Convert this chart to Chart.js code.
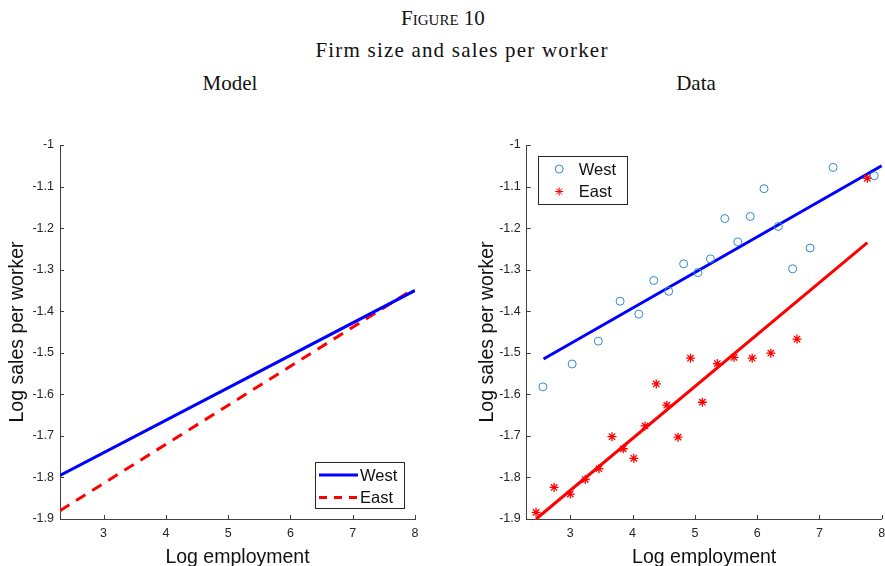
<!DOCTYPE html>
<html>
<head>
<meta charset="utf-8">
<script src="https://cdn.jsdelivr.net/npm/chart.js@4/dist/chart.umd.min.js"></script>
<style>
  body { margin: 0; background: #fff; width: 885px; height: 566px; position: relative; overflow: hidden; }
  .t { position: absolute; font-family: "Liberation Serif", serif; color: #111; white-space: nowrap; transform: translateX(-50%); }
  canvas { position: absolute; top: 100px; }
</style>
</head>
<body>
<div class="t" style="left:443px; top:6px; font-size:21px; font-variant:small-caps;">Figure 10</div>
<div class="t" style="left:462px; top:38px; font-size:21px; letter-spacing:1.2px;">Firm size and sales per worker</div>
<div class="t" style="left:230px; top:71px; font-size:21px;">Model</div>
<div class="t" style="left:696px; top:71px; font-size:21px;">Data</div>
<canvas id="model" width="440" height="466" style="left:0px"></canvas>
<canvas id="data" width="425" height="466" style="left:470px"></canvas>
<script>
const xTicks = [3, 4, 5, 6, 7, 8];
const yTicks = [-1, -1.1, -1.2, -1.3, -1.4, -1.5, -1.6, -1.7, -1.8, -1.9];

// model panel: fitted lines
const modelWestX = [2.3, 8];
const modelWestY = [-1.795, -1.35];
const modelEastX = [2.3, 7.92];
const modelEastY = [-1.88, -1.352];

// data panel: binned scatter
const westX = [2.56, 3.03, 3.45, 3.80, 4.10, 4.34, 4.58, 4.82, 5.05, 5.25, 5.48, 5.69, 5.89, 6.11, 6.34, 6.57, 6.85, 7.22, 7.88];
const westY = [-1.582, -1.527, -1.472, -1.376, -1.407, -1.326, -1.352, -1.286, -1.307, -1.274, -1.177, -1.233, -1.172, -1.105, -1.196, -1.298, -1.248, -1.054, -1.074];
const eastX = [2.45, 2.74, 3.00, 3.24, 3.46, 3.67, 3.85, 4.02, 4.20, 4.38, 4.55, 4.73, 4.93, 5.12, 5.36, 5.63, 5.92, 6.22, 6.64, 7.77];
const eastY = [-1.884, -1.824, -1.840, -1.805, -1.779, -1.702, -1.731, -1.754, -1.676, -1.575, -1.626, -1.703, -1.513, -1.619, -1.526, -1.511, -1.513, -1.501, -1.467, -1.080];
const westFitX = [2.57, 8.0];
const westFitY = [-1.515, -1.05];
const eastFitX = [2.45, 7.77];
const eastFitY = [-1.90, -1.235];

const pts = (xs, ys) => xs.map((x, i) => ({ x: x, y: ys[i] }));
const axisColor = '#404040';
const tickColor = '#262626';
const sans = '"Liberation Sans", Arial, sans-serif';

// matlab style ticks pointing into the plot
const innerTicks = {
  id: 'innerTicks',
  afterDraw(chart) {
    const { ctx, chartArea: a, scales } = chart;
    ctx.save();
    ctx.strokeStyle = axisColor;
    ctx.lineWidth = 1;
    ctx.beginPath();
    xTicks.forEach(v => {
      const px = Math.round(scales.x.getPixelForValue(v)) + 0.5;
      ctx.moveTo(px, a.bottom); ctx.lineTo(px, a.bottom - 4);
    });
    yTicks.forEach(v => {
      const py = Math.round(scales.y.getPixelForValue(v)) + 0.5;
      ctx.moveTo(a.left, py); ctx.lineTo(a.left + 4, py);
    });
    ctx.stroke();
    ctx.restore();
  }
};

// boxed legend inside the axes
const boxLegend = {
  id: 'boxLegend',
  afterDraw(chart, args, opts) {
    const { ctx, chartArea: a } = chart;
    const x0 = opts.corner === 'br' ? a.right - opts.w - 11 : a.left + 11;
    const y0 = opts.corner === 'br' ? a.bottom - opts.h - 11 : a.top + 11;
    ctx.save();
    ctx.fillStyle = '#fff';
    ctx.fillRect(x0, y0, opts.w, opts.h);
    ctx.strokeStyle = '#262626';
    ctx.lineWidth = 1;
    ctx.strokeRect(Math.round(x0) + 0.5, Math.round(y0) + 0.5, opts.w, opts.h);
    ctx.font = '16.5px ' + sans;
    ctx.textBaseline = 'middle';
    opts.items.forEach((it, i) => {
      const cy = y0 + 13 + i * 22.5;
      ctx.strokeStyle = it.color;
      if (it.kind === 'line') {
        ctx.lineWidth = 3;
        ctx.setLineDash(it.dash || []);
        ctx.beginPath(); ctx.moveTo(x0 + 4, cy); ctx.lineTo(x0 + 43, cy); ctx.stroke();
        ctx.setLineDash([]);
      } else {
        ctx.lineWidth = 1;
        ctx.fillStyle = it.kind === 'circle' ? 'rgba(0,0,0,0)' : it.color;
        Chart.helpers.drawPoint(ctx, { pointStyle: it.kind, radius: 4, borderWidth: 1 }, x0 + 21.5, cy);
      }
      ctx.fillStyle = '#111';
      ctx.fillText(it.label, x0 + opts.textX, cy + 1);
    });
    ctx.restore();
  }
};

function scales(yWidth) {
  return {
    x: {
      type: 'linear', min: 2.3, max: 8,
      afterBuildTicks: s => { s.ticks = xTicks.map(v => ({ value: v })); },
      afterFit: s => { s.height = 47; },
      grid: { drawOnChartArea: false, drawTicks: false },
      border: { color: axisColor, width: 1 },
      ticks: { color: tickColor, font: { family: sans, size: 12.5 }, padding: 7, maxRotation: 0 },
      title: { display: true, text: 'Log employment', color: '#111', font: { family: sans, size: 19.5 }, padding: { top: 0, bottom: -3 } }
    },
    y: {
      type: 'linear', min: -1.9, max: -1,
      afterBuildTicks: s => { s.ticks = yTicks.map(v => ({ value: v })); },
      afterFit: s => { s.width = yWidth; },
      grid: { drawOnChartArea: false, drawTicks: false },
      border: { color: axisColor, width: 1 },
      ticks: { color: tickColor, font: { family: sans, size: 12.5 }, padding: 6, callback: v => String(Math.round(v * 10) / 10) },
      title: { display: true, text: 'Log sales per worker', color: '#111', font: { family: sans, size: 19.5 }, padding: { top: 6, bottom: 0 } }
    }
  };
}

const baseOpts = {
  responsive: false,
  animation: false,
  devicePixelRatio: 1,
  plugins: { legend: { display: false }, tooltip: { enabled: false } }
};

new Chart(document.getElementById('model'), {
  type: 'scatter',
  data: {
    datasets: [
      { data: pts(modelWestX, modelWestY), showLine: true, borderColor: '#0000ff', borderWidth: 3, pointRadius: 0 },
      { data: pts(modelEastX, modelEastY), showLine: true, borderColor: '#ff0000', borderWidth: 3, borderDash: [11, 8], pointRadius: 0 }
    ]
  },
  options: Object.assign({}, baseOpts, {
    layout: { padding: { left: 0, right: 25, top: 45, bottom: 0 } },
    scales: scales(60),
    plugins: Object.assign({}, baseOpts.plugins, {
      boxLegend: {
        corner: 'br', w: 89, h: 46, textX: 45,
        items: [
          { label: 'West', kind: 'line', color: '#0000ff' },
          { label: 'East', kind: 'line', color: '#ff0000', dash: [8, 7] }
        ]
      }
    })
  }),
  plugins: [innerTicks, boxLegend]
});

new Chart(document.getElementById('data'), {
  type: 'scatter',
  data: {
    datasets: [
      { data: pts(westFitX, westFitY), showLine: true, borderColor: '#0000ff', borderWidth: 3, pointRadius: 0, order: 3 },
      { data: pts(eastFitX, eastFitY), showLine: true, borderColor: '#ff0000', borderWidth: 3, pointRadius: 0, order: 3 },
      { data: pts(westX, westY), pointStyle: 'circle', pointRadius: 4, borderColor: '#2f8ad0', borderWidth: 1, backgroundColor: 'transparent', order: 1 },
      { data: pts(eastX, eastY), pointStyle: 'star', pointRadius: 4.5, borderColor: '#ff0000', borderWidth: 1.3, backgroundColor: '#ff0000', order: 1 }
    ]
  },
  options: Object.assign({}, baseOpts, {
    clip: false,
    layout: { padding: { left: 0, right: 13.3, top: 45, bottom: 0 } },
    scales: scales(56.7),
    plugins: Object.assign({}, baseOpts.plugins, {
      boxLegend: {
        corner: 'tl', w: 89, h: 48, textX: 41,
        items: [
          { label: 'West', kind: 'circle', color: '#2f8ad0' },
          { label: 'East', kind: 'star', color: '#ff0000' }
        ]
      }
    })
  }),
  plugins: [innerTicks, boxLegend]
});
</script>
</body>
</html>
